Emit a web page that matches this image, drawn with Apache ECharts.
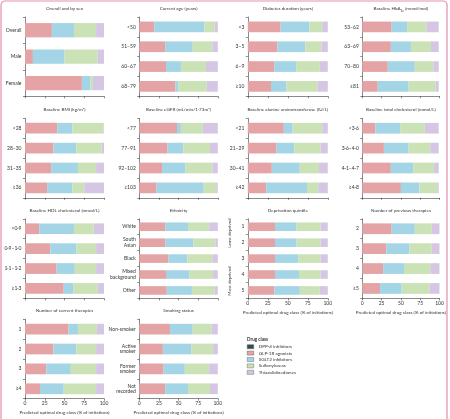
<!DOCTYPE html>
<html>
<head>
<meta charset="utf-8">
<script src="https://cdn.jsdelivr.net/npm/echarts@6/dist/echarts.min.js"></script>
<style>
html,body{margin:0;padding:0;background:#fff;}
#chart{width:450px;height:419px;}
</style>
</head>
<body>
<div id="chart"></div>
<script>
// ---------- DATA ----------
const drugClasses = ['DPP-4 inhibitors', 'GLP-1R agonists', 'SGLT2 inhibitors', 'Sulfonylureas', 'Thiazolidinediones'];
const xTicks = [0, 25, 50, 75, 100];

// shares per category: [DPP-4, GLP-1R, SGLT2, SU, TZD] (% of initiations)
const sexCats = ['Overall', 'Male', 'Female'];
const sexShares = [[0, 34, 28, 28, 10], [0, 10, 40, 42, 8], [0, 72, 11, 3, 14]];

const ageCats = ['<50', '51–59', '60–67', '68–79'];
const ageShares = [[0, 19, 64, 13, 4], [0, 33, 35, 25, 7], [0, 34, 19, 32, 15], [0, 46, 4, 36, 14]];

const durationCats = ['<3', '3–5', '6–9', '≥10'];
const durationShares = [[0, 41, 36, 16, 7], [0, 37, 35, 20, 8], [0, 33, 28, 29, 10], [0, 29, 19, 39, 13]];

const hba1cCats = ['53–62', '63–69', '70–80', '≥81'];
const hba1cShares = [[0, 38, 20, 25, 16], [0, 37, 26, 26, 10], [0, 33, 35, 24, 7], [0, 20, 40, 35, 4]];

const bmiCats = ['<28', '28–30', '31–35', '≥36'];
const bmiShares = [[0, 41, 19, 39.5, 0.5], [0, 36, 29, 32, 3], [0, 33, 34, 23, 10], [0, 28, 32, 15, 25]];

const egfrCats = ['<77', '77–91', '92–102', '≥103'];
const egfrShares = [[0, 48, 5, 28, 19], [0, 36, 20, 34, 10], [0, 29, 30, 34, 7], [0, 22, 60, 16, 2]];

const altCats = ['<21', '21–29', '30–41', '≥42'];
const altShares = [[0, 45, 11, 37, 7], [0, 36, 22, 33, 9], [0, 30, 35, 24, 11], [0, 23, 51, 14, 12]];

const cholCats = ['<3·6', '3·6–4·0', '4·1–4·7', '≥4·8'];
const cholShares = [[0, 17, 32, 32, 18], [0, 28, 32, 28, 11], [0, 37, 29, 27, 6], [0, 50, 24, 23, 2]];

const hdlCats = ['<0·9', '0·9–1·0', '1·1–1·2', '≥1·3'];
const hdlShares = [[0, 18, 44, 25, 13], [0, 32, 33, 25, 10], [0, 40, 23, 27, 10], [0, 49, 12, 31, 8]];

const ethnicityCats = ['White', 'South\nAsian', 'Black', 'Mixed\nbackground', 'Other'];
const ethnicityShares = [[0, 33, 29, 27, 11], [0, 33, 36, 28, 3], [0, 37, 24, 32, 7], [0, 34, 30, 30, 6], [0, 35, 32, 29, 4]];

const deprivationCats = ['1', '2', '3', '4', '5'];
const deprivationShares = [[0, 34, 27, 30, 9], [0, 34, 27, 30, 9], [0, 34, 29, 28, 9], [0, 34, 30, 27, 9], [0, 33, 32, 25, 10]];

const prevTherapyCats = ['2', '3', '4', '≥5'];
const prevTherapyShares = [[0, 38, 30, 22, 10], [0, 31, 30, 29, 10], [0, 27, 27, 34, 12], [0, 23, 28, 36, 13]];

const currTherapyCats = ['1', '2', '3', '≥4'];
const currTherapyShares = [[0, 55, 12, 24, 9], [0, 36, 29, 25, 10], [0, 27, 31, 32, 10], [0, 19, 30, 41, 10]];

const smokingCats = ['Non-smoker', 'Active\nsmoker', 'Former\nsmoker', 'Not\nrecorded'];
const smokingShares = [[0, 39, 29, 24, 8], [0, 30, 36, 28, 6], [0, 31, 27, 31, 11], [0, 33, 29, 28, 10]];

// ---------- LAYOUT / STYLE ----------
const FONT = 'Lato';
const TXT = '#333';
const AX = '#3a3a3a';
const colors = ['#2E4D5A', '#E4A3A4', '#A3D5E6', '#CAE2B5', '#D5C7E3'];
const colX = [25, 139.3, 247.8, 362.3];
const colW = [79, 78.5, 80, 77.2];
const rowTop = [17, 118.3, 218.8, 319.2];
const rowH = [79.3, 79.5, 79.6, 79.5];

const panels = [
  {t: 'Overall and by sex', c: sexCats, v: sexShares, r: 0, k: 0},
  {t: 'Current age (years)', c: ageCats, v: ageShares, r: 0, k: 1},
  {t: 'Diabetes duration (years)', c: durationCats, v: durationShares, r: 0, k: 2},
  {t: 'Baseline HbA{sub|1c} (mmol/mol)', c: hba1cCats, v: hba1cShares, r: 0, k: 3},
  {t: 'Baseline BMI (kg/m²)', c: bmiCats, v: bmiShares, r: 1, k: 0},
  {t: 'Baseline eGFR (mL/min/1·73m²)', c: egfrCats, v: egfrShares, r: 1, k: 1},
  {t: 'Baseline alanine aminotransferase (IU/L)', c: altCats, v: altShares, r: 1, k: 2},
  {t: 'Baseline total cholesterol (mmol/L)', c: cholCats, v: cholShares, r: 1, k: 3},
  {t: 'Baseline HDL cholesterol (mmol/L)', c: hdlCats, v: hdlShares, r: 2, k: 0},
  {t: 'Ethnicity', c: ethnicityCats, v: ethnicityShares, r: 2, k: 1},
  {t: 'Deprivation quintile', c: deprivationCats, v: deprivationShares, r: 2, k: 2, bottom: true},
  {t: 'Number of previous therapies', c: prevTherapyCats, v: prevTherapyShares, r: 2, k: 3, bottom: true},
  {t: 'Number of current therapies', c: currTherapyCats, v: currTherapyShares, r: 3, k: 0, bottom: true},
  {t: 'Smoking status', c: smokingCats, v: smokingShares, r: 3, k: 1, bottom: true}
];

const grid = [], xAxis = [], yAxis = [], series = [], title = [];
panels.forEach((p, i) => {
  const left = colX[p.k], top = rowTop[p.r], w = colW[p.k], h = rowH[p.r];
  grid.push({left: left, top: top, width: w, height: h, containLabel: false});
  title.push({
    text: p.t, left: left + w / 2, top: top - 11, textAlign: 'center', padding: 0,
    textStyle: {fontFamily: FONT, fontSize: 4.6, fontWeight: 'normal', color: TXT,
      rich: {sub: {fontFamily: FONT, fontSize: 3.2, color: TXT, verticalAlign: 'bottom', padding: [3, 0, 0, 0]}}}
  });
  xAxis.push({
    gridIndex: i, type: 'value', min: 0, max: 100, interval: 25,
    axisLine: {show: true, lineStyle: {color: AX, width: 0.6}},
    axisTick: {show: true, length: 2, lineStyle: {color: AX, width: 0.6}},
    splitLine: {show: false},
    axisLabel: {show: !!p.bottom, fontFamily: FONT, fontSize: 5, color: TXT, margin: 2.5,
      formatter: v => xTicks.includes(v) ? String(v) : ''},
    name: p.bottom ? 'Predicted optimal drug class (% of initiations)' : '',
    nameLocation: 'middle', nameGap: 11.5,
    nameTextStyle: {fontFamily: FONT, fontSize: 4.6, color: TXT}
  });
  yAxis.push({
    gridIndex: i, type: 'category', data: p.c, inverse: true,
    axisLine: {show: true, lineStyle: {color: AX, width: 0.6}},
    axisTick: {show: true, length: 2, lineStyle: {color: AX, width: 0.6}},
    axisLabel: {fontFamily: FONT, fontSize: 5, color: TXT, margin: 3.5, lineHeight: 5.6},
    splitLine: {show: false}
  });
  drugClasses.forEach((name, j) => {
    series.push({
      type: 'bar', name: name, xAxisIndex: i, yAxisIndex: i, stack: 'p' + i,
      data: p.v.map(row => row[j]), barCategoryGap: '46%',
      itemStyle: {color: colors[j]}, silent: true, animation: false
    });
  });
});

const option = {
  animation: false,
  backgroundColor: '#fff',
  title: title,
  grid: grid, xAxis: xAxis, yAxis: yAxis, series: series,
  legend: {
    data: drugClasses, orient: 'vertical', left: 247, top: 343.7,
    itemWidth: 6.5, itemHeight: 4, itemGap: 0.4, padding: 0, icon: 'rect',
    itemStyle: {borderColor: '#555', borderWidth: 0.4},
    textStyle: {fontFamily: FONT, fontSize: 4.6, color: TXT, lineHeight: 6},
    selectedMode: false
  },
  graphic: [
    {type: 'rect', shape: {x: 1, y: 1, width: 446, height: 440, r: 4}, style: {fill: 'none', stroke: '#E58FB0', lineWidth: 1.2}, silent: true},
    {type: 'text', x: 247, y: 337.5, style: {text: 'Drug class', fontFamily: FONT, fontSize: 4.6, fontWeight: 'bold', fill: TXT}},
    {type: 'text', x: 230, y: 233, rotation: Math.PI / 2, style: {text: 'Least deprived', fontFamily: FONT, fontSize: 4.6, fill: TXT, align: 'center', verticalAlign: 'middle'}},
    {type: 'text', x: 230, y: 281, rotation: Math.PI / 2, style: {text: 'Most deprived', fontFamily: FONT, fontSize: 4.6, fill: TXT, align: 'center', verticalAlign: 'middle'}}
  ]
};

const chart = echarts.init(document.getElementById('chart'), null, {renderer: 'canvas'});
chart.setOption(option);
</script>
</body>
</html>
